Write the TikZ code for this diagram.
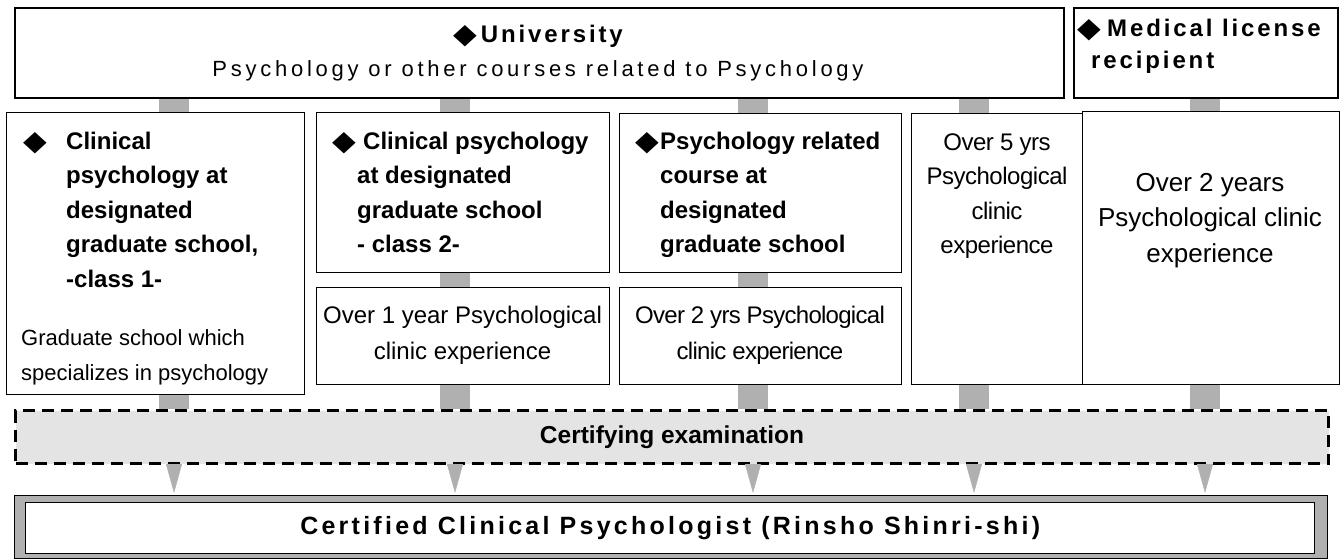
\documentclass[tikz,border=0pt]{standalone}
\usepackage{graphicx}
\usepackage{fontspec}
\setmainfont{Liberation Sans}
\newfontfamily\diafont{DejaVu Sans}
\usetikzlibrary{positioning, arrows.meta}
\definecolor{bargray}{RGB}{176,176,176}
\definecolor{examgray}{RGB}{228,228,228}
\pgfdeclarelayer{background}
\pgfsetlayers{background,main}
\newcommand{\dia}{\raisebox{-1pt}{\scalebox{1.1}[1]{\diafont\fontsize{28}{28}\selectfont ◆}}}
\newcommand{\headfont}{\fontsize{24}{34.5}\selectfont\bfseries}
\newcommand{\clinicfont}{\fontsize{24}{34.5}\selectfont}
\newcommand{\wideboldfont}{\fontsize{24}{32}\selectfont\bfseries\addfontfeatures{LetterSpace=12}}
\tikzset{
  boxframe/.style={draw, line width=1.4pt, fill=white, inner sep=0pt, anchor=north west},
  topframe/.style={boxframe, line width=2pt},
  examframe/.style={draw, dashed, dash pattern=on 12pt off 7pt, line width=3pt, fill=examgray, inner sep=0pt, anchor=north west},
  headtxt/.style={inner sep=0pt, align=left, font=\headfont, anchor=north west},
  clinictxt/.style={inner sep=0pt, align=center, font=\clinicfont, anchor=north},
  bar/.style={line width=30pt, draw=bargray},
  tri/.style={-{Triangle[length=29pt,width=16pt]}, draw=bargray, line width=0.4pt, shorten <=1.5pt, shorten >=2pt}
}

\begin{document}
\begin{tikzpicture}[x=1pt, y=-1pt]
\useasboundingbox (0,0) rectangle (1341,559);

% top row
\node[topframe, minimum width=1049pt, minimum height=90pt] (univ) at (14,7) {};
\node[topframe, minimum width=264pt, minimum height=90pt] (med) at (1073,7) {};

% courses and experience
\node[boxframe, minimum width=298pt, minimum height=282pt] (box1) at (6,112) {};
\node[boxframe, minimum width=293pt, minimum height=160pt] (box2a) at (316,112) {};
\node[boxframe, minimum width=293pt, minimum height=97pt] (box2b) at (316,287) {};
\node[boxframe, minimum width=282pt, minimum height=159pt] (box3a) at (619,113) {};
\node[boxframe, minimum width=282pt, minimum height=97pt] (box3b) at (619,287) {};
\node[boxframe, minimum width=171pt, minimum height=271pt] (box4) at (911,113) {};
\node[boxframe, minimum width=257pt, minimum height=273pt] (box5) at (1082,111) {};

% exam and license
\node[examframe, minimum width=1313pt, minimum height=53pt, font=\fontsize{24.5}{28}\selectfont\bfseries] (exam) at (14,409) {Certifying examination};
\node[boxframe, fill=bargray, minimum width=1313pt, minimum height=63pt] (cert) at (14,495) {};
\node[boxframe, minimum width=1289pt, minimum height=51pt, font=\fontsize{25}{30}\selectfont\bfseries\addfontfeatures{LetterSpace=13}] (certin) at (25,502) {Certified Clinical Psychologist (Rinsho Shinri-shi)};

% texts
\node[inner sep=0pt, align=center, font=\fontsize{22}{34}\selectfont\addfontfeatures{LetterSpace=17}, anchor=north] (univtxt) at (538,19)
  {{\fontsize{24}{34}\selectfont\bfseries\addfontfeatures{LetterSpace=12}\strut\dia\hspace{4pt}University}\\Psychology or other courses related to Psychology};
\node[inner sep=0pt, align=left, font=\wideboldfont, anchor=north west] (medtxt) at (1077,13.6)
  {\strut\makebox[30pt][l]{\dia}Medical license\\\hspace*{14pt}recipient};
\node[headtxt] (box1txt) at (23,125)
  {\strut\makebox[43pt][l]{\dia}Clinical\\\hspace*{43pt}psychology at\\\hspace*{43pt}designated\\\hspace*{43pt}graduate school,\\\hspace*{43pt}-class 1-};
\node[inner sep=0pt, align=left, font=\fontsize{22}{35}\selectfont, anchor=north west] (box1note) at (21,320.5)
  {\strut Graduate school which\\specializes in psychology};
\node[headtxt] (box2atxt) at (332,125)
  {\strut\makebox[31pt][l]{\dia}Clinical psychology\\\hspace*{25pt}at designated\\\hspace*{25pt}graduate school\\\hspace*{25pt}- class 2-};
\node[headtxt] (box3atxt) at (635,125)
  {\strut\makebox[25pt][l]{\dia}Psychology related\\\hspace*{25pt}course at\\\hspace*{25pt}designated\\\hspace*{25pt}graduate school};
\node[clinictxt] (box2btxt) at (462.5,299) {\strut Over 1 year Psychological\\[1.5pt]clinic experience};
\node[clinictxt, font=\clinicfont\addfontfeatures{LetterSpace=-3}] (box3btxt) at (760,299) {\strut Over 2 yrs Psychological\\[1.5pt]clinic experience};
\node[clinictxt, font=\clinicfont\addfontfeatures{LetterSpace=-2}] (box4txt) at (997,126) {\strut Over 5 yrs\\Psychological\\clinic\\experience};
\node[clinictxt, font=\fontsize{26}{35.5}\selectfont] (box5txt) at (1210,166) {\strut Over 2 years\\Psychological clinic\\experience};

% gray bars and arrows
\coordinate (c1) at (174,0);
\coordinate (c2) at (455,0);
\coordinate (c3) at (753,0);
\coordinate (c4) at (974,0);
\coordinate (c5) at (1205,0);
\begin{pgfonlayer}{background}
\foreach \c/\a/\b in {c1/univ/box1, c2/univ/box2a, c3/univ/box3a, c4/univ/box4, c5/med/box5,
                      c2/box2a/box2b, c3/box3a/box3b,
                      c1/box1/exam, c2/box2b/exam, c3/box3b/exam, c4/box4/exam, c5/box5/exam}
  \draw[bar] (\c |- \a.south) -- (\c |- \b.north);
\end{pgfonlayer}
\foreach \c in {c1,c2,c3,c4,c5}
  \draw[tri] (\c |- exam.south) -- (\c |- cert.north);
\end{tikzpicture}
\end{document}
